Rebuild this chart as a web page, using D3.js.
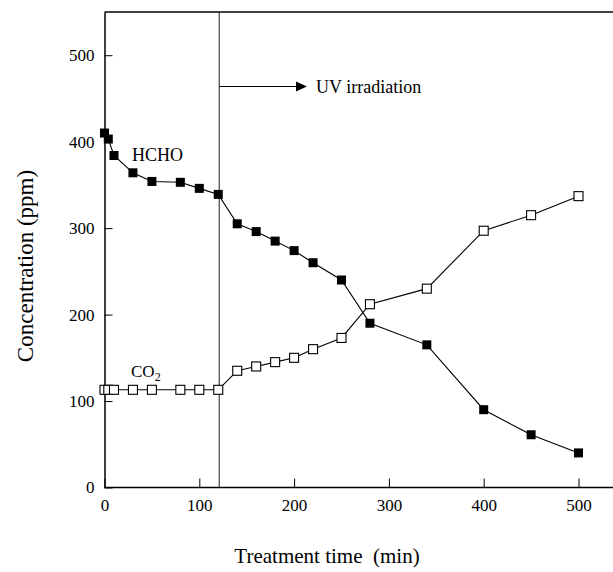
<!DOCTYPE html>
<html>
<head>
<meta charset="utf-8">
<script src="https://cdn.jsdelivr.net/npm/d3@7"></script>
<style>
  html, body { margin: 0; padding: 0; background: #fff; }
  svg { display: block; }
  text { font-family: "Liberation Serif", "Times New Roman", serif; fill: #000; }
</style>
</head>
<body>
<script>
// ---- Data ----
const hchoTime = [0, 4, 10, 30, 50, 80, 100, 120, 140, 160, 180, 200, 220, 250, 280, 340, 400, 450, 500];
const hchoConc = [410, 403, 384, 364, 354, 353, 346, 339, 305, 296, 285, 274, 260, 240, 190, 165, 90, 61, 40];
const co2Time  = [0, 4, 10, 30, 50, 80, 100, 120, 140, 160, 180, 200, 220, 250, 280, 340, 400, 450, 500];
const co2Conc  = [113, 113, 113, 113, 113, 113, 113, 113, 135, 140, 145, 150, 160, 173, 212, 230, 297, 315, 337];
const xTicks = [0, 100, 200, 300, 400, 500];
const yTicks = [0, 100, 200, 300, 400, 500];
const uvTime = 120;

const W = 613, H = 572;
const svg = d3.select("body").append("svg").attr("width", W).attr("height", H);

const x = d3.scaleLinear().domain([0, 540]).range([104.5, 104.5 + 540 * 0.948]);
const y = d3.scaleLinear().domain([0, 550]).range([487.5, 12]);

// UV irradiation line
svg.append("line")
  .attr("x1", x(uvTime) + 1).attr("x2", x(uvTime) + 1)
  .attr("y1", y(550)).attr("y2", y(0))
  .attr("stroke", "#444").attr("stroke-width", 1.2);

// Frame top
svg.append("line")
  .attr("x1", x(0)).attr("x2", W + 20)
  .attr("y1", y(550)).attr("y2", y(550))
  .attr("stroke", "#000").attr("stroke-width", 1.5);

// Axes
const yAxis = d3.axisLeft(y).tickValues(yTicks).tickSizeInner(-8).tickSizeOuter(0).tickPadding(10);
const gy = svg.append("g").attr("transform", `translate(${x(0)},0)`).call(yAxis);
gy.selectAll("text").attr("font-size", 17).attr("font-family", "Liberation Serif");
gy.select(".domain").attr("stroke-width", 1.5);

const xAxis = d3.axisBottom(x).tickValues(xTicks).tickSizeInner(-9).tickSizeOuter(0).tickPadding(11);
const gx = svg.append("g").attr("transform", `translate(0,${y(0)})`).call(xAxis);
gx.selectAll("text").attr("font-size", 17).attr("font-family", "Liberation Serif");
gx.select(".domain").attr("d", `M${x(0)},0H${W + 20}`).attr("stroke-width", 1.5);

// Lines
const line = d3.line().x(d => x(d[0])).y(d => y(d[1]));
const hcho = hchoTime.map((t, i) => [t, hchoConc[i]]);
const co2 = co2Time.map((t, i) => [t, co2Conc[i]]);

svg.append("path").datum(co2).attr("d", line).attr("fill", "none").attr("stroke", "#000").attr("stroke-width", 1.1);
svg.append("path").datum(hcho).attr("d", line).attr("fill", "none").attr("stroke", "#000").attr("stroke-width", 1.1);

const s = 9;
svg.append("g").selectAll("rect").data(co2).join("rect")
  .attr("x", d => x(d[0]) - s / 2).attr("y", d => y(d[1]) - s / 2)
  .attr("width", s).attr("height", s)
  .attr("fill", "#fff").attr("stroke", "#000").attr("stroke-width", 1.1);
svg.append("g").selectAll("rect").data(hcho).join("rect")
  .attr("x", d => x(d[0]) - s / 2).attr("y", d => y(d[1]) - s / 2)
  .attr("width", s).attr("height", s)
  .attr("fill", "#000");

// Annotations
svg.append("text").attr("x", 132).attr("y", 161).attr("font-size", 18).text("HCHO");
const co2Label = svg.append("text").attr("x", 131).attr("y", 377).attr("font-size", 17);
co2Label.append("tspan").text("CO");
co2Label.append("tspan").attr("font-size", 12).attr("dy", 4).text("2");

// UV arrow
const arrowY = 86.5;
svg.append("line").attr("x1", x(uvTime) + 1).attr("x2", 298).attr("y1", arrowY).attr("y2", arrowY)
  .attr("stroke", "#000").attr("stroke-width", 1.1);
svg.append("path").attr("d", `M296,${arrowY - 5}L307,${arrowY}L296,${arrowY + 5}Z`).attr("fill", "#000");
svg.append("text").attr("x", 316).attr("y", 93).attr("font-size", 18).text("UV irradiation");

// Axis titles
svg.append("text").attr("transform", "translate(33,266) rotate(-90)")
  .attr("text-anchor", "middle").attr("font-size", 23).text("Concentration (ppm)");
svg.append("text").attr("x", 327).attr("y", 563)
  .attr("text-anchor", "middle").attr("font-size", 21).attr("xml:space", "preserve")
  .style("white-space", "pre").text("Treatment time  (min)");
</script>
</body>
</html>
